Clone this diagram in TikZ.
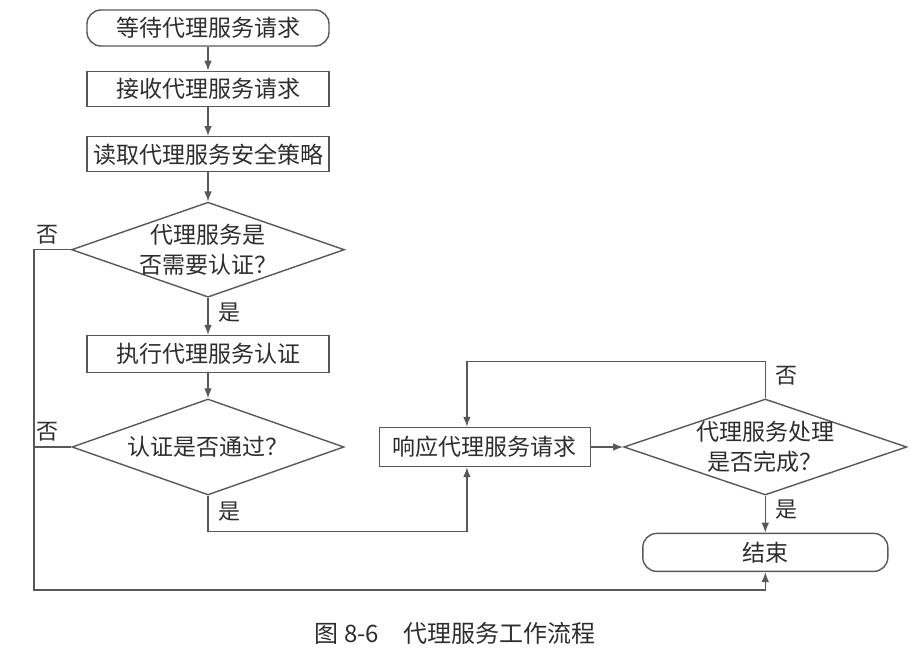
\documentclass[tikz,border=0pt]{standalone}
\usepackage{fontspec}
\setmainfont{Noto Sans CJK SC}
\usetikzlibrary{positioning,arrows.meta,shapes.geometric}
\definecolor{lineclr}{RGB}{88,88,88}
\definecolor{txtclr}{RGB}{45,45,45}

\begin{document}
\begin{tikzpicture}[
  x=0.5pt, y=-0.5pt,
  box/.style={draw=lineclr, line width=0.7pt, minimum width=121pt,
              minimum height=17.5pt, inner sep=0pt, text=txtclr,
              font=\fontsize{11.5}{15}\selectfont},
  term/.style={box, rounded corners=7pt},
  decision/.style={diamond, draw=lineclr, line width=0.7pt, aspect=2.9,
                   inner sep=-3pt, align=center, text=txtclr,
                   font=\fontsize{11.5}{15}\selectfont},
  lbl/.style={inner sep=0pt, text=txtclr, font=\fontsize{11}{13}\selectfont},
  arrow/.style={draw=lineclr, line width=0.7pt,
                -{Latex[length=5pt,width=3.8pt]}},
  line/.style={draw=lineclr, line width=0.7pt}
]
  \useasboundingbox (0,0) rectangle (910,652);

  % Main column
  \node[term, minimum height=18pt] (wait) at (208,28) {等待代理服务请求};
  \node[box, below=12pt of wait] (recv) {接收代理服务请求};
  \node[box, below=14.5pt of recv] (policy) {读取代理服务安全策略};
  \node[decision, minimum width=136.5pt, minimum height=47.5pt,
        below=14.5pt of policy] (needauth) {代理服务是\\否需要认证？};
  \node[box, minimum height=18.5pt, below=18.5pt of needauth] (auth)
    {执行代理服务认证};
  \node[decision, minimum width=136pt, minimum height=48pt,
        below=12.5pt of auth] (pass) {认证是否通过？};

  % Right part
  \node[box, minimum width=105.5pt, minimum height=19.5pt,
        right=17pt of pass] (resp) {响应代理服务请求};
  \node[decision, minimum width=141.5pt, minimum height=48pt,
        right=16pt of resp] (done) {代理服务处理\\是否完成？};
  \node[term, minimum width=122.5pt, minimum height=19pt,
        below=18.5pt of done] (end) {结束};

  \coordinate (corner) at (34,590);

  % Arrows
  \draw[arrow] (wait) -- (recv);
  \draw[arrow] (recv) -- (policy);
  \draw[arrow] (policy) -- (needauth);
  \draw[arrow] (needauth) -- (auth);
  \draw[arrow] (auth) -- (pass);
  \draw[arrow] (resp) -- (done);
  \draw[arrow] (done) -- (end);
  \draw[arrow] (pass.south) -- ++(0,-18pt) -| ([xshift=-9pt]resp.south);
  \draw[arrow] (done.north) -- ++(0,18.5pt) -| ([xshift=-9pt]resp.north);
  \draw[arrow] (needauth.west) -| (corner) -| (end.south);
  \draw[line] (pass.west) -- (pass.west -| corner);

  % Labels
  \node[lbl, anchor=south east] (no1) at ([xshift=-6pt,yshift=2.5pt]needauth.west) {否};
  \node[lbl, anchor=south east] (no2) at ([xshift=-6pt,yshift=2.5pt]pass.west) {否};
  \node[lbl, anchor=north west] (yes1) at ([xshift=5pt,yshift=-2.5pt]needauth.south) {是};
  \node[lbl, anchor=north west] (yes2) at ([xshift=5pt,yshift=-3pt]pass.south) {是};
  \node[lbl, anchor=south west] (no3) at ([xshift=5pt,yshift=6.5pt]done.north) {否};
  \node[lbl, anchor=north west] (yes3) at ([xshift=5pt,yshift=-2pt]done.south) {是};

  % Caption
  \node[lbl, font=\fontsize{12}{14}\selectfont] (cap) at (455,633)
    {图 8-6\quad 代理服务工作流程};
\end{tikzpicture}
\end{document}
